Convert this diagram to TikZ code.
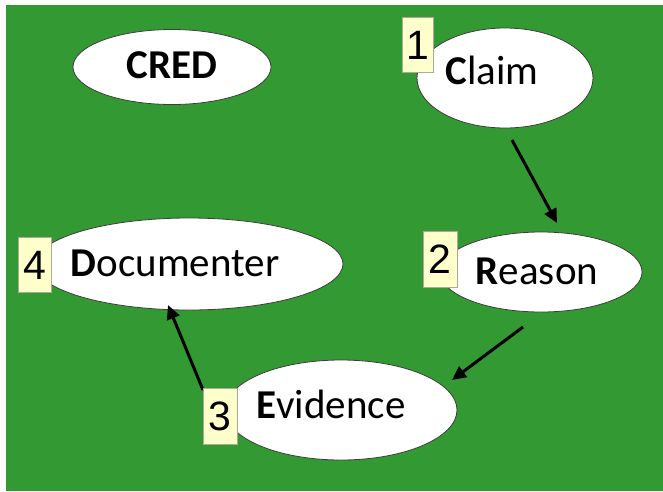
\documentclass[tikz,border=0pt]{standalone}
\usepackage{fontspec}
\setmainfont{Carlito}
\newfontfamily\digitfont{Liberation Sans}
\usetikzlibrary{shapes.geometric,arrows.meta}
\definecolor{bggreen}{RGB}{51,153,51}
\definecolor{boxyellow}{RGB}{255,255,204}
\definecolor{boxedge}{RGB}{170,170,150}
\definecolor{ovaledge}{RGB}{60,60,60}
\tikzset{
  oval/.style={ellipse, draw=ovaledge, line width=0.8pt, fill=white, inner sep=0pt},
  lbl/.style={anchor=base, inner sep=0pt, font=\fontsize{41}{48}\selectfont},
  numbox/.style={draw=boxedge, line width=0.6pt, fill=boxyellow, inner sep=0pt,
    text height=29pt, text depth=0pt, font=\digitfont\fontsize{41}{48}\selectfont},
  arr/.style={line width=3pt, -{Triangle[width=13pt,length=14pt]}}
}
\begin{document}
\begin{tikzpicture}[x=1pt,y=-1pt]
\useasboundingbox (0,0) rectangle (663,491);
\fill[bggreen] (6,5) rectangle (663,491);
% ovals
\node[oval, minimum width=198pt, minimum height=75pt] (cred) at (172,67) {};
\node[oval, minimum width=176pt, minimum height=100pt] (claim) at (505,78) {};
\node[oval, minimum width=202pt, minimum height=80pt] (reason) at (541,272) {};
\node[oval, minimum width=308pt, minimum height=92pt] (doc) at (189,264) {};
\node[oval, minimum width=232pt, minimum height=100pt] (evid) at (341,410) {};
% labels
\node[lbl] (credT) at (172,78) {\textbf{CRED}};
\node[lbl] (claimT) at (492,84) {\textbf{C}laim};
\node[lbl] (reasonT) at (537,284) {\textbf{R}eason};
\node[lbl] (docT) at (175,276) {\textbf{D}ocumenter};
\node[lbl] (evidT) at (331,418) {\textbf{E}vidence};
% arrows
\coordinate (a1s) at (512,140);
\coordinate (a1e) at (557,223);
\coordinate (a2s) at (523,327);
\coordinate (a2e) at (452,380);
\coordinate (a3s) at (203,390);
\coordinate (a3e) at (168,305);
\draw[arr] (a1s) -- (a1e);
\draw[arr] (a2s) -- (a2e);
\draw[arr] (a3s) -- (a3e);
% number boxes
\node[numbox, minimum width=31pt, minimum height=55pt] (n1) at (417.5,44.5) {1};
\node[numbox, minimum width=34pt, minimum height=56pt] (n2) at (440,259) {2};
\node[numbox, minimum width=34pt, minimum height=56pt] (n3) at (220,416) {3};
\node[numbox, minimum width=33pt, minimum height=55pt] (n4) at (34.5,264.5) {4};
\end{tikzpicture}
\end{document}
